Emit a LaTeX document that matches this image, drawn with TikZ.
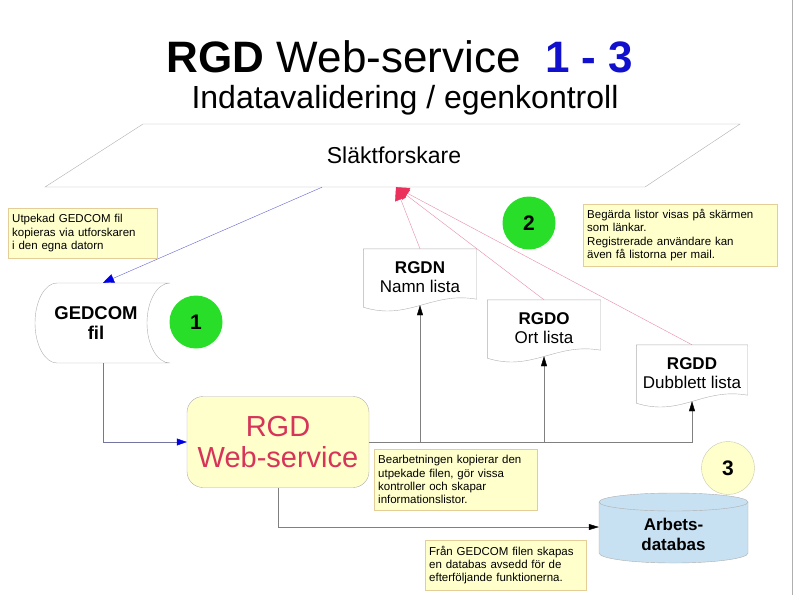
\documentclass[tikz,border=0pt]{standalone}
\usepackage{fontspec}
\setmainfont{Liberation Sans}
\usepackage{xcolor}
\usepackage{tikz}
\usetikzlibrary{shapes,shapes.geometric,calc,arrows.meta,positioning}

\definecolor{noteyellow}{RGB}{255,255,204}
\definecolor{noteline}{RGB}{228,205,150}
\definecolor{stepgreen}{RGB}{40,222,40}
\definecolor{circline}{RGB}{200,200,170}
\definecolor{shapeline}{RGB}{175,175,175}
\definecolor{linegray}{RGB}{128,128,128}
\definecolor{pinkline}{RGB}{232,140,165}
\definecolor{pinkhead}{RGB}{236,48,92}
\definecolor{blueline}{RGB}{100,100,210}
\definecolor{bluehead}{RGB}{0,0,230}
\definecolor{rgdred}{RGB}{214,52,88}
\definecolor{titleblue}{RGB}{16,16,205}
\definecolor{dbblue}{RGB}{200,225,242}

\begin{document}
\begin{tikzpicture}[x=1pt,y=-1pt]
  \tikzstyle{every node}=[inner sep=0pt]
  \tikzstyle{note}=[draw=noteline, fill=noteyellow, anchor=north west, align=left, inner sep=4pt, font=\fontsize{11.5}{13.3}\selectfont]
  \tikzstyle{doc}=[minimum width=113pt, minimum height=56pt, align=center, font=\fontsize{17}{19}\selectfont]
  \tikzstyle{stepno}=[circle, fill=stepgreen, minimum size=53pt, font=\bfseries\fontsize{21}{24}\selectfont]
  \tikzstyle{redline}=[draw=pinkline, -{Triangle[length=13pt,width=12pt,color=pinkhead]}]
  \tikzstyle{blueline}=[draw=blueline, -{Triangle[length=11pt,width=9pt,color=bluehead]}]
  \tikzstyle{feed}=[draw=linegray, -{Triangle[length=10pt,width=6pt,color=black]}]
  \tikzstyle{feedblue}=[draw=linegray!60!blueline, -{Triangle[length=10pt,width=7pt,color=bluehead]}]

  \useasboundingbox (0,0) rectangle (794,595);
  \draw[shapeline] (792,0) -- (792,595);

  % titel
  \node (title) [anchor=base, font=\fontsize{44}{48}\selectfont] at (400,72)
    {\textbf{RGD} Web-service\ \ \textcolor{titleblue}{\textbf{1 - 3}}};
  \node (subtitle) [anchor=base, font=\fontsize{32}{36}\selectfont] at (405,108)
    {Indatavalidering / egenkontroll};

  % Slaktforskare
  \draw[shapeline, fill=white] (143,124) -- (740,124) -- (645,187) -- (45,187) -- cycle;
  \node (slakt) [minimum width=500pt, minimum height=63pt, font=\fontsize{23}{26}\selectfont] at (394,155.5) {Släktforskare};

  % GEDCOM fil
  \draw[shapeline, fill=white] (57,283) -- (170,283)
    arc[start angle=90, end angle=270, x radius=23pt, y radius=40pt] -- (57,363)
    arc[start angle=270, end angle=90, x radius=22pt, y radius=40pt];
  \node (gedcom) [minimum width=122pt, minimum height=80pt, align=center, font=\bfseries\fontsize{18.5}{20}\selectfont] at (96,323) {GEDCOM\\fil};

  % listor
  \node (rgdn) [doc] at (420,277) {\textbf{RGDN}\\Namn lista};
  \node (rgdo) [doc] at (544,328) {\textbf{RGDO}\\Ort lista};
  \node (rgdd) [doc, minimum width=111pt] at (692,373) {\textbf{RGDD}\\Dubblett lista};
  \foreach \d in {rgdn,rgdo,rgdd}
    \draw[shapeline] ([yshift=6pt]\d.south east) -- (\d.north east) -- (\d.north west) -- ([yshift=-2pt]\d.south west)
      .. controls +(45,14) and +(-45,-8) .. ([yshift=6pt]\d.south east);

  % web-service
  \node (rgd) [rounded corners=16pt, draw=shapeline, fill=noteyellow, minimum width=182pt, minimum height=91pt,
    align=center, text=rgdred, font=\fontsize{29}{31}\selectfont] at (278,442) {RGD\\Web-service};

  % databas
  \draw[shapeline, fill=dbblue] (599,502) -- (599,553)
    arc[start angle=180, end angle=360, x radius=74.5pt, y radius=10pt] -- (748,502)
    arc[start angle=0, end angle=180, x radius=74.5pt, y radius=9pt] -- cycle;
  \draw[shapeline] (599,502) arc[start angle=180, end angle=360, x radius=74.5pt, y radius=9pt];
  \node (db) [minimum width=149pt, minimum height=40pt, align=center, font=\bfseries\fontsize{17}{20}\selectfont] at (673.5,534) {Arbets-\\databas};

  % pilar
  \draw[blueline] ([xshift=-72pt]slakt.south) -- ([xshift=7pt]gedcom.north);
  \draw[redline] (rgdn.north) -- ([xshift=2pt]slakt.south);
  \draw[redline] (rgdo.north) -- ([xshift=2pt]slakt.south);
  \draw[redline] (rgdd.north) -- ([xshift=2pt]slakt.south);
  \draw[feedblue] ([xshift=7pt]gedcom.south) |- (rgd.west);
  \draw[feed] (rgd.east) -| (rgdd.south);
  \draw[feed] (rgdn.south |- rgd.east) -- (rgdn.south);
  \draw[feed] (rgdo.south |- rgd.east) -- (rgdo.south);
  \draw[feed] (rgd.south) |- ([yshift=7pt]db.west);

  % steg
  \node (one) [stepno] at (196,322) {1};
  \node (two) [stepno] at (529,223) {2};
  \node (three) [stepno, fill=noteyellow, draw=circline] at (728,468) {3};

  % kommentarer
  \node (n1) [note, minimum width=149pt, minimum height=50pt, text width=141pt] at (8,208)
    {Utpekad GEDCOM fil\\kopieras via utforskaren\\i den egna datorn};
  \node (n2) [note, minimum width=194pt, minimum height=62pt, text width=186pt] at (583,204)
    {Begärda listor visas på skärmen\\som länkar.\\Registrerade användare kan\\även få listorna per mail.};
  \node (n3) [note, minimum width=163pt, minimum height=61pt, text width=155pt] at (374,449)
    {Bearbetningen kopierar den\\utpekade filen, gör vissa\\kontroller och skapar\\informationslistor.};
  \node (n4) [note, minimum width=161pt, minimum height=50pt, text width=153pt] at (425,540)
    {Från GEDCOM filen skapas\\en databas avsedd för de\\efterföljande funktionerna.};
\end{tikzpicture}
\end{document}
